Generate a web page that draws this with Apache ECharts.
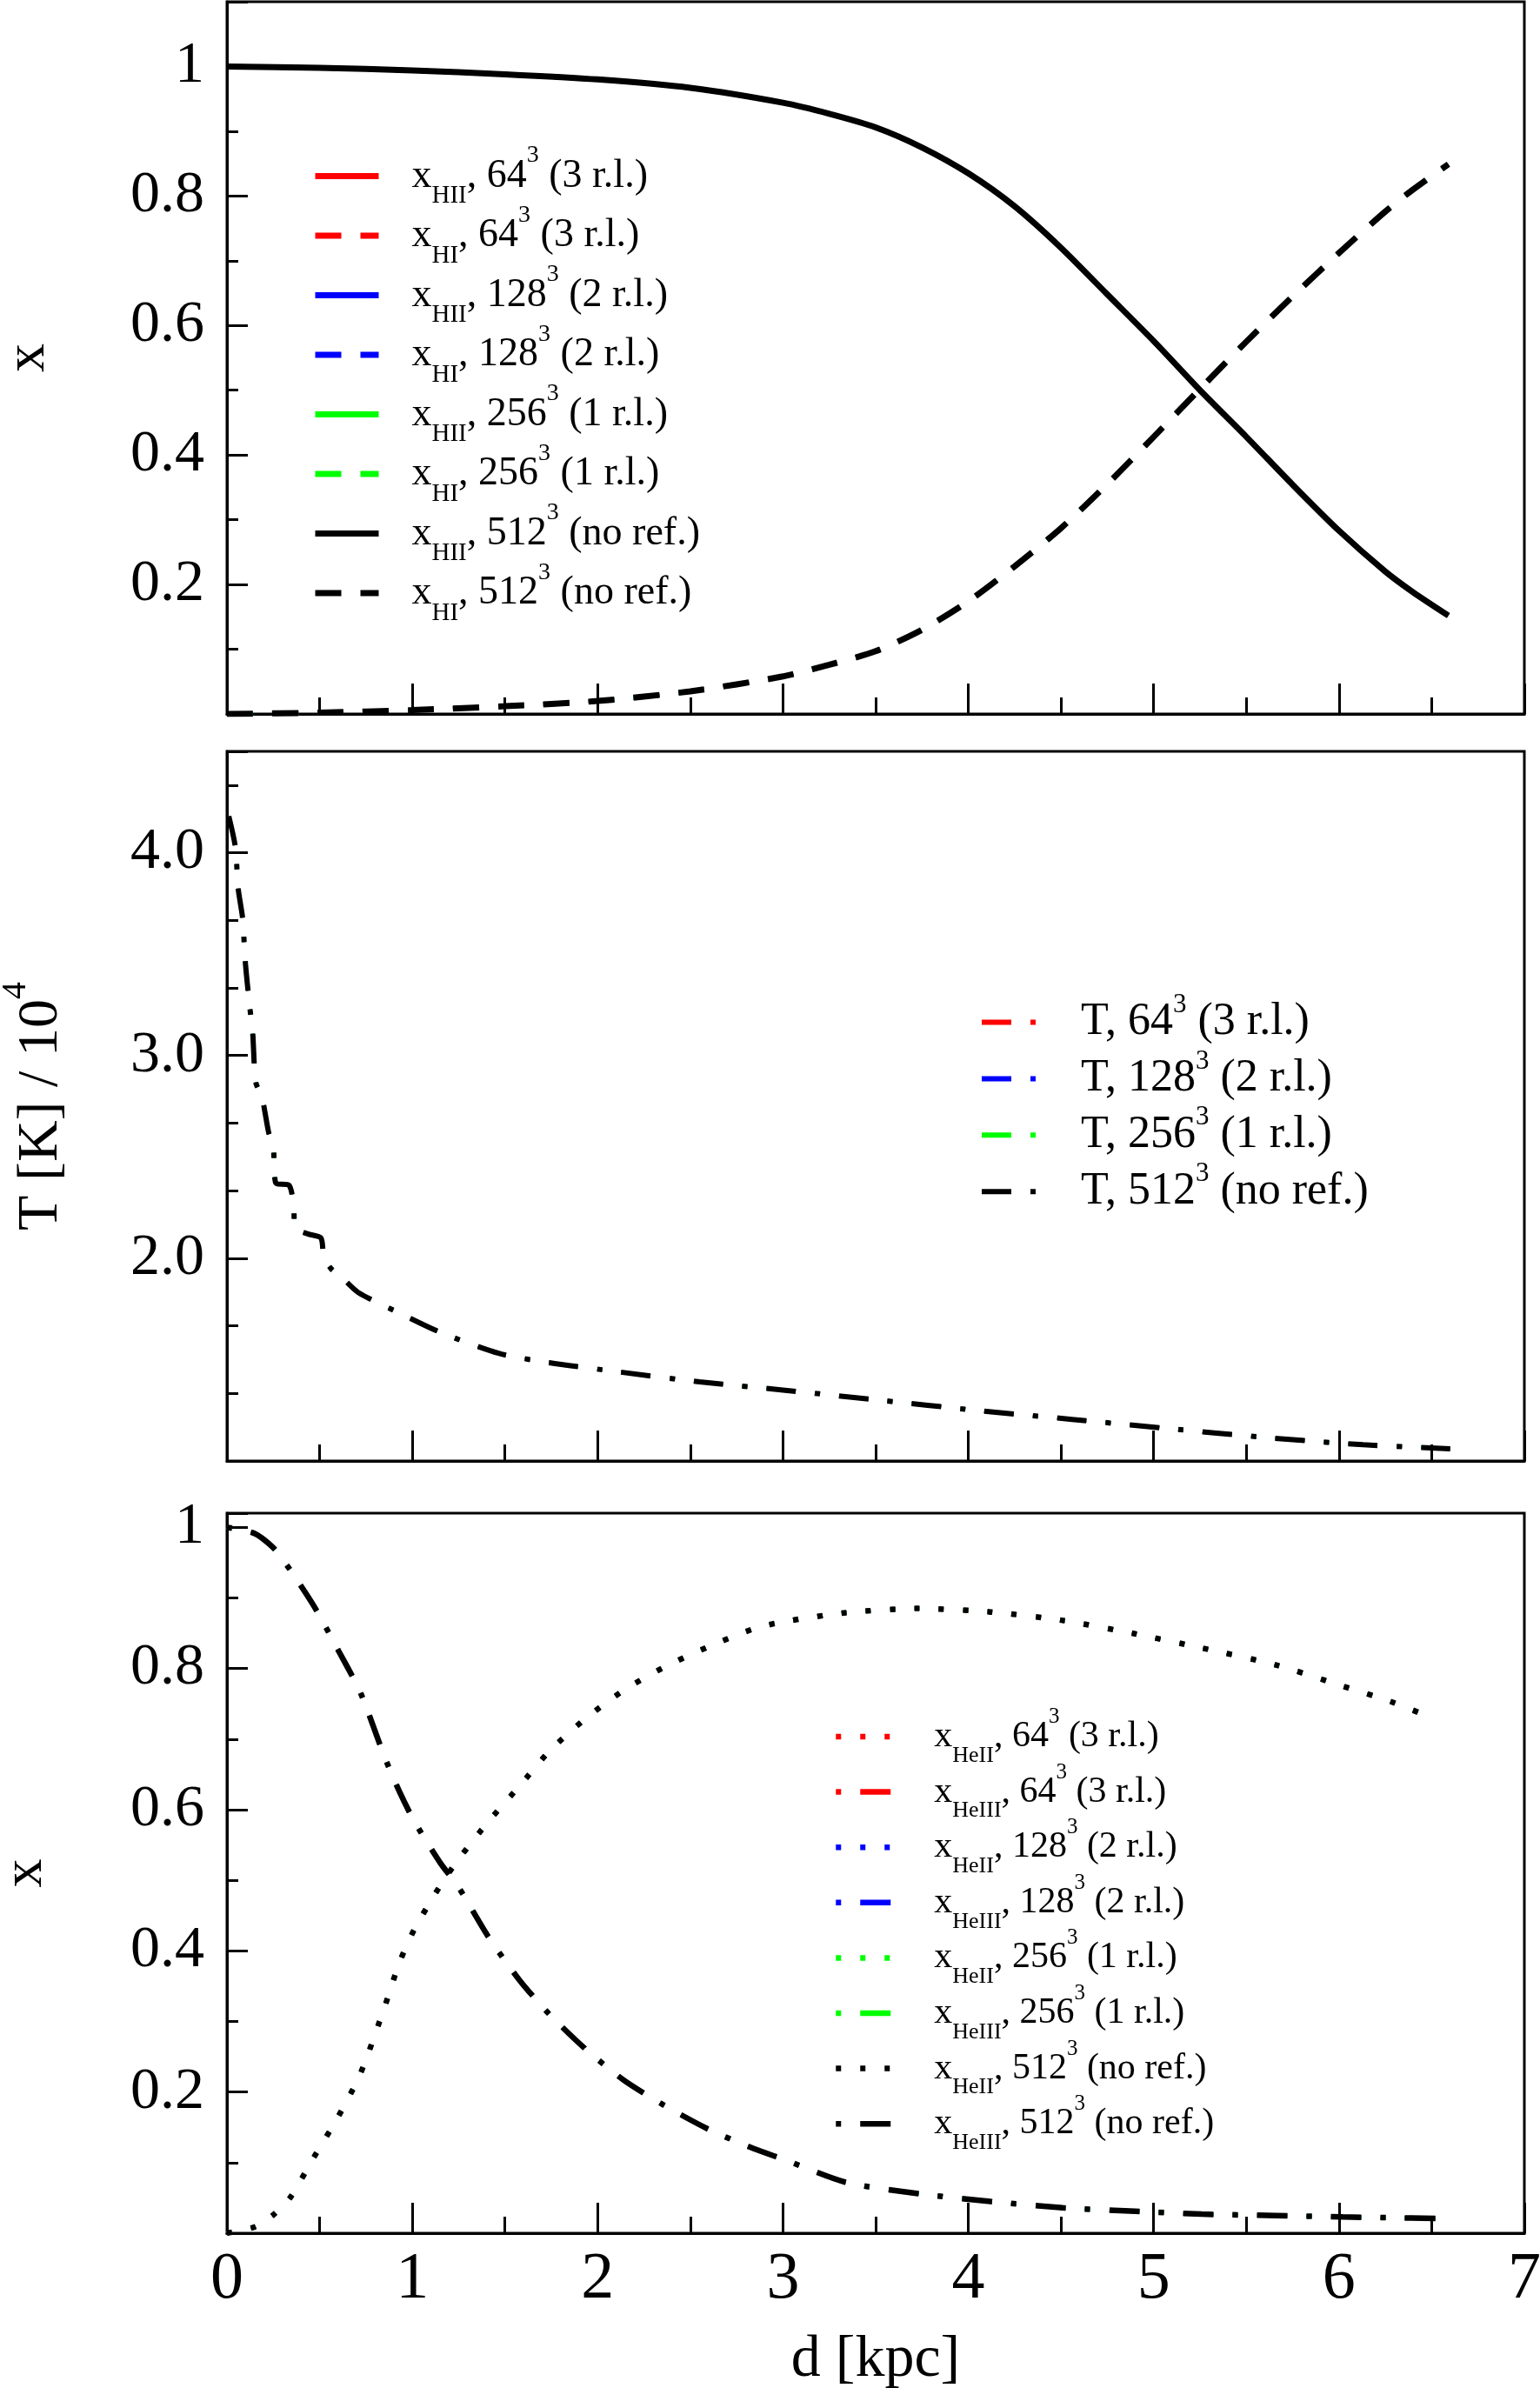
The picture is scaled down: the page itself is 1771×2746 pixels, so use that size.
<!DOCTYPE html>
<html>
<head>
<meta charset="utf-8">
<script src="https://cdn.jsdelivr.net/npm/echarts@6/dist/echarts.min.js"></script>
<style>
html, body { margin: 0; padding: 0; background: #fff; }
#chart { width: 1771px; height: 2746px; }
</style>
</head>
<body>
<div id="chart"></div>
<script>
// 위 패널: 수소 전리도
const d1 = [0, 0.5, 1, 1.5, 2, 2.5, 3, 3.25, 3.5, 3.75, 4, 4.25, 4.5, 4.75, 5, 5.25, 5.5, 5.75, 6, 6.25, 6.4, 6.59];
const xHII = [1.000, 0.998, 0.994, 0.988, 0.980, 0.967, 0.944, 0.927, 0.906, 0.875, 0.835, 0.784, 0.720, 0.648, 0.576, 0.500, 0.428, 0.354, 0.283, 0.220, 0.188, 0.152];
const xHI = [0.000, 0.002, 0.006, 0.012, 0.020, 0.035, 0.058, 0.076, 0.097, 0.130, 0.174, 0.228, 0.287, 0.355, 0.428, 0.502, 0.575, 0.645, 0.712, 0.776, 0.810, 0.849];

// 가운데 패널: 온도 (10^4 K)
const d2 = [0.01, 0.045, 0.061, 0.084, 0.1, 0.123, 0.139, 0.155, 0.19, 0.225, 0.25, 0.264, 0.335, 0.36, 0.366, 0.436, 0.507, 0.522, 0.56, 0.62, 0.71, 0.93, 1.15, 1.47, 1.74, 2.11, 2.55, 3.0, 3.52, 4.04, 4.56, 5.08, 5.6, 6.13, 6.6];
const temp = [4.18, 4.03, 3.82, 3.68, 3.45, 3.24, 3.11, 2.87, 2.79, 2.62, 2.55, 2.37, 2.36, 2.26, 2.15, 2.12, 2.10, 2.01, 1.95, 1.905, 1.83, 1.73, 1.635, 1.53, 1.485, 1.44, 1.39, 1.35, 1.30, 1.25, 1.205, 1.16, 1.116, 1.08, 1.06];

// 아래 패널: 헬륨 전리도
const d3 = [0, 0.15, 0.25, 0.34, 0.47, 0.6, 0.72, 0.85, 0.93, 1.01, 1.15, 1.25, 1.41, 1.58, 1.74, 1.93, 2.14, 2.36, 2.6, 2.84, 3.0, 3.34, 3.73, 4.12, 4.51, 4.9, 5.26, 5.66, 6.02, 6.28, 6.52];
const xHeII = [0.0, 0.009, 0.026, 0.05, 0.108, 0.165, 0.226, 0.32, 0.383, 0.43, 0.492, 0.53, 0.583, 0.634, 0.683, 0.728, 0.769, 0.802, 0.831, 0.856, 0.866, 0.879, 0.885, 0.880, 0.868, 0.849, 0.829, 0.805, 0.775, 0.753, 0.728];
const xHeIII = [1.0, 0.991, 0.971, 0.94, 0.888, 0.826, 0.766, 0.675, 0.626, 0.584, 0.525, 0.49, 0.42, 0.358, 0.31, 0.262, 0.217, 0.181, 0.147, 0.12, 0.105, 0.072, 0.056, 0.045, 0.036, 0.031, 0.027, 0.025, 0.023, 0.022, 0.021];

const xTicks = [0, 1, 2, 3, 4, 5, 6, 7];

// 해상도별 실행 (색, 이름)
const runs = [
	{ id: '64', color: '#ff0000', rl: '(3 r.l.)' },
	{ id: '128', color: '#0000ff', rl: '(2 r.l.)' },
	{ id: '256', color: '#00ff00', rl: '(1 r.l.)' },
	{ id: '512', color: '#000000', rl: '(no ref.)' }
];

const FONT = '"Liberation Serif", "Times New Roman", serif';

const DASH1 = [30, 22];
const DASHDOT2 = [34, 22, 6, 22];
const DOT3 = [6, 22];
const DOTDASH3 = [6, 22, 35, 22];

function pairs(xs, ys) {
	return xs.map((x, i) => [x, ys[i]]);
}

const chart = echarts.init(document.getElementById('chart'), null, { renderer: 'canvas' });

const series = [];
const legendText = {};

function addLine(name, label, axis, xs, ys, color, dash, width) {
	const black = color === '#000000';
	series.push({
		name: name,
		type: 'line',
		xAxisIndex: axis,
		yAxisIndex: axis * 2 + 1,
		data: pairs(xs, ys),
		symbol: 'none',
		smooth: 0.25,
		silent: true,
		z: black ? 3 : 2,
		lineStyle: { color: color, width: black ? width : width - 1.5, type: dash, cap: 'butt' },
		itemStyle: { color: color }
	});
	legendText[name] = label;
}

const legend1 = [], legend2 = [], legend3 = [];
runs.forEach(r => {
	addLine('xHII_' + r.id, 'x{s|HII}, ' + r.id + '{p|3} ' + r.rl, 0, d1, xHII, r.color, 'solid', 7);
	addLine('xHI_' + r.id, 'x{s|HI}, ' + r.id + '{p|3} ' + r.rl, 0, d1, xHI, r.color, DASH1, 7);
	legend1.push('xHII_' + r.id, 'xHI_' + r.id);

	addLine('T_' + r.id, 'T, ' + r.id + '{p|3} ' + r.rl, 1, d2, temp, r.color, DASHDOT2, 6);
	legend2.push('T_' + r.id);

	addLine('xHeII_' + r.id, 'x{s|HeII}, ' + r.id + '{p|3} ' + r.rl, 2, d3, xHeII, r.color, DOT3, 6.5);
	addLine('xHeIII_' + r.id, 'x{s|HeIII}, ' + r.id + '{p|3} ' + r.rl, 2, d3, xHeIII, r.color, DOTDASH3, 6.5);
	legend3.push('xHeII_' + r.id, 'xHeIII_' + r.id);
});

const grids = [
	{ left: 261, width: 1492, top: 2, height: 819 },
	{ left: 261, width: 1492, top: 864, height: 816 },
	{ left: 261, width: 1492, top: 1740, height: 828 }
].map(g => Object.assign(g, {
	show: true,
	borderColor: '#000',
	borderWidth: 3,
	containLabel: false,
	outerBoundsMode: 'none'
}));

const axisLineStyle = { color: '#000', width: 3 };

function xAxis(i) {
	const last = i === 2;
	return {
		type: 'value',
		gridIndex: i,
		position: 'bottom',
		min: xTicks[0],
		max: xTicks[xTicks.length - 1],
		interval: 1,
		axisLine: { show: true, lineStyle: axisLineStyle },
		axisTick: { show: true, inside: true, length: 35, lineStyle: axisLineStyle },
		minorTick: { show: true, splitNumber: 2, length: 19, lineStyle: axisLineStyle },
		splitLine: { show: false },
		axisLabel: {
			show: last,
			margin: 16,
			fontFamily: FONT,
			fontSize: 76,
			color: '#000',
			formatter: v => (xTicks.indexOf(v) >= 0 ? String(v) : '')
		},
		name: last ? 'd [kpc]' : '',
		nameLocation: 'middle',
		nameGap: 112,
		nameTextStyle: { fontFamily: FONT, fontSize: 68, color: '#000' }
	};
}

// 보조 눈금용 y축 (짧은 눈금)
function yMinor(i, min, max, interval) {
	return {
		type: 'value',
		gridIndex: i,
		position: 'left',
		min: min,
		max: max,
		interval: interval,
		axisLine: { show: false },
		axisTick: { show: true, inside: true, length: 13, lineStyle: axisLineStyle },
		axisLabel: { show: false },
		splitLine: { show: false }
	};
}

// 주 눈금 + 라벨 y축
function yMajor(i, min, max, interval, fmt, name, nameGap, rich) {
	return {
		type: 'value',
		gridIndex: i,
		position: 'left',
		offset: 0,
		min: min,
		max: max,
		interval: interval,
		axisLine: { show: true, lineStyle: axisLineStyle },
		axisTick: { show: true, inside: true, length: 24, lineStyle: axisLineStyle },
		splitLine: { show: false },
		axisLabel: {
			margin: 26,
			fontFamily: FONT,
			fontSize: 68,
			color: '#000',
			formatter: fmt
		},
		name: name,
		nameLocation: 'middle',
		nameGap: nameGap,
		nameTextStyle: {
			fontFamily: FONT,
			fontSize: 66,
			lineHeight: 66,
			color: '#000',
			rich: rich || {}
		}
	};
}

const fmtX = v => {
	if (v < 0.05 || v > 1.01) return '';
	return Math.abs(v - 1) < 1e-6 ? '1' : v.toFixed(1);
};
const fmtT = v => {
	const r = Math.round(v);
	return (Math.abs(v - r) < 1e-6 && r >= 2 && r <= 4) ? r.toFixed(1) : '';
};

// 범례: 첨자 padding 때문에 줄 높이가 커져서 itemGap으로 간격 맞춤
function legendBox(data, left, top, itemWidth, gap, fontSize, subSize, subPad, supSize, supPad, textPad, lineWidth) {
	return {
		show: true,
		orient: 'vertical',
		left: left,
		top: top,
		padding: 0,
		itemGap: gap,
		itemWidth: itemWidth,
		itemHeight: 2,
		selectedMode: false,
		data: data,
		lineStyle: { width: lineWidth },
		itemStyle: { opacity: 0 },
		formatter: name => legendText[name],
		textStyle: {
			fontFamily: FONT,
			fontSize: fontSize,
			color: '#000',
			padding: [0, 0, 0, textPad],
			rich: {
				s: { fontFamily: FONT, fontSize: subSize, color: '#000', padding: [subPad, 0, 0, 0] },
				p: { fontFamily: FONT, fontSize: supSize, color: '#000', padding: [0, 0, supPad, 0] }
			}
		}
	};
}

const option = {
	animation: false,
	backgroundColor: '#fff',
	grid: grids,
	xAxis: [xAxis(0), xAxis(1), xAxis(2)],
	yAxis: [
		yMinor(0, 0, 1.1, 0.1),
		yMajor(0, 0, 1.1, 0.2, fmtX, 'x', 195),
		yMinor(1, 1, 4.5, 1 / 3),
		yMajor(1, 1, 4.5, 1, fmtT, 'T [K] / 10{p|4}', 180,
			{ p: { fontFamily: FONT, fontSize: 40, lineHeight: 66, color: '#000', padding: [0, 0, 60, 0] } }),
		yMinor(2, 0, 1.02, 0.1),
		yMajor(2, 0, 1.02, 0.2, fmtX, 'x', 198)
	],
	legend: [
		legendBox(legend1, 359, 165, 73, -6.5, 46, 29, 46, 28, 47, 33, 7),
		legendBox(legend2, 1126, 1140, 62, 3.4, 52, 31, 40, 31, 40, 47, 6),
		legendBox(legend3, 958, 1962, 63, -6.4, 42, 26, 44, 25, 45, 45, 6.5)
	],
	series: series
};

chart.setOption(option);
</script>
</body>
</html>
